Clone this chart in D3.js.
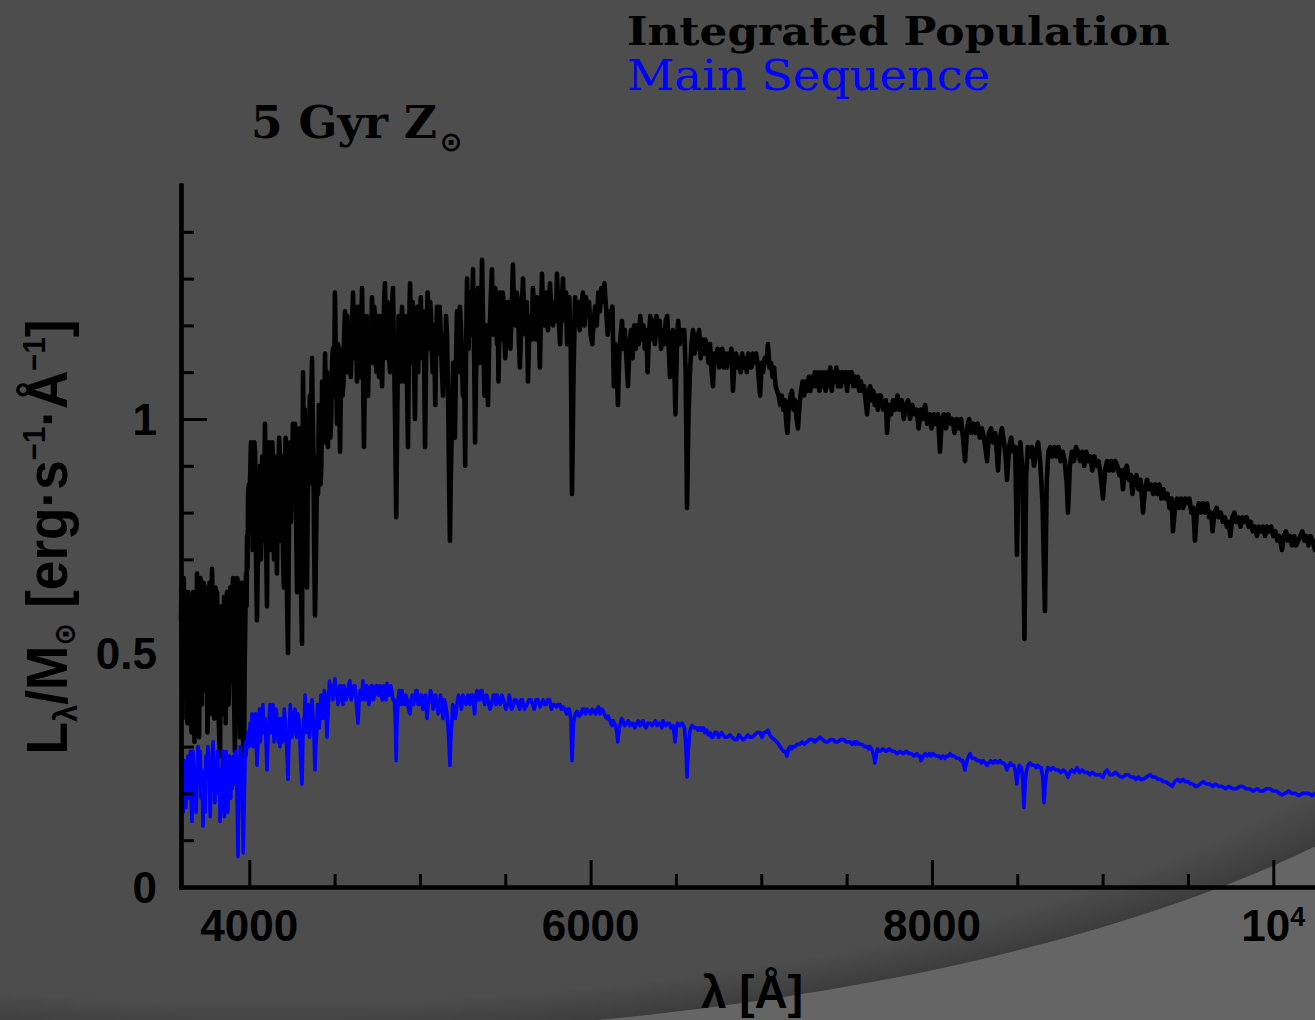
<!DOCTYPE html>
<html>
<head>
<meta charset="utf-8">
<script src="https://cdn.jsdelivr.net/npm/d3@7"></script>
<style>
  html, body { margin: 0; padding: 0; background: #656565; overflow: hidden; }
  svg { display: block; }
</style>
</head>
<body>
<svg id="chart" width="1315" height="1020"></svg>
<script>
// Spectral energy distribution of a 5 Gyr solar-metallicity population:
// [wavelength (Å), L_λ/M_⊙ (erg s^-1 Å^-1)]
const integratedPopulation = [
  [3600,0.57],[3603,0.64],[3606,0.47],[3609,0.36],[3612,0.59],[3616,0.66],[3620,0.50],[3624,0.40],
  [3628,0.63],[3631,0.58],[3635,0.53],[3638,0.35],[3641,0.63],[3645,0.55],[3650,0.45],[3654,0.58],
  [3659,0.41],[3662,0.33],[3665,0.60],[3670,0.63],[3673,0.55],[3676,0.47],[3679,0.31],[3682,0.38],
  [3685,0.52],[3688,0.62],[3691,0.57],[3694,0.67],[3697,0.60],[3700,0.52],[3703,0.42],[3706,0.32],
  [3708,0.45],[3711,0.62],[3714,0.66],[3718,0.56],[3722,0.39],[3725,0.61],[3729,0.53],[3733,0.65],
  [3738,0.60],[3742,0.42],[3746,0.58],[3749,0.64],[3752,0.44],[3755,0.33],[3758,0.40],[3761,0.60],
  [3764,0.55],[3767,0.65],[3770,0.63],[3773,0.37],[3776,0.50],[3779,0.61],[3782,0.68],[3786,0.58],
  [3790,0.52],[3795,0.36],[3799,0.43],[3802,0.64],[3805,0.60],[3808,0.50],[3811,0.63],[3815,0.55],
  [3818,0.40],[3823,0.33],[3829,0.28],[3832,0.50],[3835,0.45],[3838,0.60],[3840,0.51],[3844,0.37],
  [3848,0.43],[3853,0.62],[3858,0.54],[3862,0.35],[3866,0.49],[3870,0.63],[3875,0.58],[3879,0.39],
  [3884,0.47],[3888,0.64],[3893,0.60],[3896,0.44],[3899,0.52],[3902,0.62],[3905,0.66],[3908,0.55],
  [3911,0.40],[3916,0.29],[3920,0.48],[3924,0.55],[3929,0.66],[3934,0.65],[3937,0.52],[3940,0.44],
  [3946,0.32],[3949,0.48],[3952,0.58],[3957,0.65],[3960,0.45],[3963,0.33],[3967,0.28],[3970,0.30],
  [3973,0.47],[3976,0.55],[3981,0.67],[3984,0.60],[3987,0.75],[3990,0.68],[3993,0.84],[3998,0.86],
  [4001,0.76],[4004,0.86],[4010,0.95],[4016,0.90],[4020,0.72],[4025,0.80],[4030,0.95],[4034,0.93],
  [4040,0.70],[4045,0.57],[4051,0.72],[4058,0.82],[4063,0.90],[4068,0.70],[4072,0.76],[4076,0.92],
  [4080,0.88],[4086,0.74],[4092,0.99],[4098,0.80],[4101,0.68],[4104,0.60],[4108,0.86],[4112,0.80],
  [4116,0.95],[4121,0.93],[4125,0.72],[4130,0.82],[4135,0.95],[4140,0.90],[4145,0.70],[4150,0.74],
  [4156,0.92],[4162,0.67],[4166,0.78],[4170,0.85],[4175,0.96],[4180,0.92],[4185,0.74],[4190,0.78],
  [4194,0.92],[4198,0.71],[4203,0.64],[4208,0.86],[4213,0.96],[4218,0.76],[4222,0.60],[4227,0.50],
  [4230,0.66],[4233,0.80],[4239,0.95],[4244,0.78],[4250,0.88],[4256,0.99],[4262,0.84],[4268,0.99],
  [4274,0.80],[4280,0.63],[4285,0.78],[4290,0.85],[4295,0.98],[4300,0.72],[4305,0.60],[4309,0.52],
  [4312,0.80],[4315,1.10],[4318,0.98],[4322,0.90],[4326,1.02],[4330,0.80],[4334,0.72],[4338,0.64],
  [4342,0.80],[4346,0.95],[4350,0.86],[4355,1.05],[4358,0.92],[4362,1.00],[4365,1.08],[4368,1.13],
  [4371,1.02],[4375,0.95],[4380,0.74],[4385,0.58],[4389,0.66],[4392,0.75],[4398,0.92],[4403,0.84],
  [4408,1.03],[4412,1.00],[4417,0.86],[4422,0.90],[4427,1.08],[4432,1.05],[4438,0.95],[4444,1.14],
  [4448,1.06],[4452,1.00],[4456,1.10],[4461,0.94],[4466,1.02],[4470,1.08],[4475,0.96],[4480,1.00],
  [4485,1.12],[4490,1.15],[4496,1.05],[4502,1.27],[4508,1.12],[4514,0.99],[4520,1.16],[4525,1.10],
  [4532,0.93],[4537,1.08],[4542,1.15],[4547,1.05],[4552,1.08],[4556,1.18],[4561,1.23],[4566,1.10],
  [4570,1.12],[4575,1.22],[4580,1.10],[4585,1.16],[4590,1.20],[4595,1.09],[4600,1.15],[4604,1.22],
  [4608,1.27],[4613,1.16],[4618,1.13],[4622,1.24],[4627,1.21],[4631,1.08],[4635,1.12],[4640,1.24],
  [4645,1.20],[4649,1.09],[4653,1.14],[4657,1.22],[4661,1.28],[4666,1.12],[4672,0.94],[4677,1.08],
  [4683,1.15],[4689,1.22],[4696,1.05],[4701,1.14],[4707,1.20],[4713,1.12],[4719,1.26],[4724,1.18],
  [4728,1.12],[4732,1.24],[4737,1.22],[4741,1.12],[4746,1.10],[4751,1.22],[4756,1.19],[4761,1.09],
  [4766,1.13],[4772,1.22],[4778,1.07],[4782,1.14],[4787,1.20],[4791,1.26],[4795,1.29],[4800,1.18],
  [4805,1.13],[4810,1.25],[4815,1.22],[4820,1.13],[4825,1.10],[4830,1.24],[4834,1.18],[4838,1.25],
  [4842,1.28],[4846,1.18],[4850,1.10],[4855,0.98],[4861,0.79],[4866,0.98],[4870,1.10],[4875,1.22],
  [4880,1.18],[4885,1.08],[4890,1.12],[4895,1.24],[4900,1.20],[4905,1.12],[4910,1.08],[4915,1.22],
  [4920,1.17],[4925,1.06],[4930,0.94],[4936,1.18],[4942,1.29],[4947,1.20],[4952,1.12],[4957,1.25],
  [4962,1.20],[4966,1.10],[4971,1.00],[4976,1.14],[4981,1.18],[4985,1.24],[4990,1.10],[4995,1.19],
  [5000,1.22],[5005,1.26],[5010,1.13],[5015,1.20],[5020,1.23],[5025,1.12],[5030,0.94],[5037,1.16],
  [5045,1.27],[5050,1.20],[5055,1.15],[5060,1.25],[5065,1.22],[5070,1.14],[5075,1.10],[5082,1.20],
  [5090,1.03],[5095,1.16],[5100,1.24],[5105,1.18],[5110,1.14],[5115,1.24],[5120,1.20],[5127,1.12],
  [5135,1.05],[5141,1.18],[5148,1.13],[5153,1.22],[5159,1.17],[5163,1.08],[5167,1.00],[5171,0.86],
  [5176,0.74],[5180,0.86],[5185,0.95],[5190,1.05],[5195,1.12],[5200,1.04],[5205,0.96],[5211,1.12],
  [5217,1.23],[5222,1.16],[5228,1.10],[5234,1.24],[5240,1.20],[5246,1.12],[5252,1.05],[5258,1.16],
  [5265,0.90],[5270,1.14],[5276,1.30],[5280,1.22],[5285,1.15],[5290,1.27],[5295,1.25],[5303,1.18],
  [5311,1.32],[5318,1.12],[5323,0.95],[5329,1.10],[5335,1.18],[5340,1.28],[5345,1.25],[5350,1.12],
  [5355,1.15],[5360,1.26],[5364,1.34],[5371,1.18],[5378,1.05],[5384,1.14],[5390,1.20],[5395,1.12],
  [5399,1.03],[5405,1.16],[5410,1.20],[5416,1.27],[5422,1.32],[5427,1.22],[5432,1.18],[5437,1.26],
  [5442,1.28],[5447,1.20],[5452,1.16],[5456,1.24],[5460,1.08],[5465,1.18],[5469,1.27],[5475,1.22],
  [5480,1.17],[5485,1.27],[5490,1.25],[5495,1.18],[5500,1.13],[5508,1.22],[5516,1.25],
  [5523,1.16],[5530,1.15],[5538,1.24],[5545,1.33],[5552,1.22],[5560,1.20],[5567,1.27],[5575,1.25],
  [5580,1.16],[5586,1.11],[5595,1.22],[5604,1.30],[5611,1.21],[5618,1.18],[5626,1.25],[5633,1.08],
  [5641,1.20],[5648,1.22],[5655,1.17],[5662,1.28],[5671,1.21],[5680,1.17],[5686,1.26],[5692,1.24],
  [5698,1.17],[5703,1.11],[5709,1.22],[5715,1.31],[5722,1.23],[5730,1.20],[5740,1.27],[5750,1.19],
  [5756,1.24],[5762,1.29],[5771,1.22],[5780,1.20],[5790,1.25],[5797,1.21],[5803,1.31],[5812,1.22],
  [5821,1.16],[5829,1.24],[5838,1.30],[5844,1.23],[5850,1.21],[5856,1.27],[5862,1.16],[5868,1.24],
  [5875,1.26],[5884,1.15],[5891,0.84],[5900,1.10],[5909,1.26],[5918,1.20],[5927,1.25],[5936,1.19],
  [5945,1.24],[5955,1.27],[5964,1.20],[5973,1.26],[5982,1.22],[5991,1.25],[6000,1.18],[6010,1.16],
  [6018,1.21],[6027,1.24],[6036,1.20],[6045,1.27],[6054,1.23],[6063,1.28],[6072,1.25],[6081,1.29],
  [6090,1.24],[6100,1.18],[6110,1.23],[6120,1.20],[6128,1.24],[6136,1.07],[6145,1.16],[6152,1.12],
  [6160,1.03],[6168,1.14],[6176,1.18],[6184,1.21],[6192,1.15],[6200,1.19],[6210,1.13],[6219,1.07],
  [6228,1.16],[6237,1.19],[6246,1.13],[6255,1.20],[6264,1.15],[6273,1.20],[6282,1.16],[6291,1.22],
  [6300,1.17],[6309,1.20],[6318,1.15],[6327,1.19],[6334,1.10],[6342,1.18],[6350,1.22],[6359,1.17],
  [6368,1.21],[6377,1.16],[6386,1.22],[6395,1.18],[6404,1.21],[6413,1.15],[6422,1.19],[6431,1.16],
  [6440,1.21],[6449,1.22],[6458,1.15],[6465,1.09],[6474,1.17],[6482,1.19],[6490,1.12],[6497,1.01],
  [6505,1.15],[6513,1.21],[6522,1.16],[6531,1.19],[6540,1.17],[6549,1.19],[6557,1.10],[6565,0.81],
  [6573,1.00],[6582,1.10],[6591,1.16],[6600,1.19],[6609,1.14],[6618,1.18],[6627,1.15],[6636,1.19],
  [6645,1.13],[6654,1.17],[6663,1.14],[6672,1.17],[6682,1.15],[6691,1.12],[6700,1.16],[6709,1.10],
  [6717,1.07],[6726,1.14],[6735,1.12],[6744,1.15],[6753,1.11],[6762,1.14],[6771,1.15],[6780,1.11],
  [6789,1.14],[6798,1.11],[6807,1.14],[6816,1.12],[6825,1.15],[6834,1.06],[6843,1.12],[6852,1.14],
  [6861,1.11],[6870,1.13],[6879,1.10],[6888,1.14],[6897,1.11],[6906,1.13],[6915,1.10],[6924,1.14],
  [6933,1.13],[6942,1.11],[6951,1.14],[6960,1.12],[6969,1.14],[6978,1.12],[6993,1.05],[7002,1.12],
  [7011,1.10],[7020,1.13],[7030,1.12],[7039,1.16],[7048,1.11],[7057,1.12],[7066,1.09],[7075,1.11],
  [7084,1.07],[7093,1.06],[7102,1.05],[7111,1.03],[7120,1.05],[7129,1.02],[7138,1.04],[7147,0.99],
  [7153,0.97],[7162,1.03],[7171,1.05],[7180,1.06],[7189,1.02],[7198,1.04],[7207,1.00],[7215,0.98],
  [7224,1.03],[7233,1.06],[7242,1.08],[7251,1.05],[7260,1.08],[7269,1.06],[7278,1.09],[7287,1.06],
  [7296,1.09],[7305,1.07],[7314,1.10],[7323,1.07],[7332,1.10],[7341,1.06],[7350,1.10],[7359,1.07],
  [7368,1.10],[7377,1.06],[7386,1.10],[7395,1.07],[7404,1.11],[7413,1.06],[7422,1.10],[7431,1.08],
  [7440,1.11],[7449,1.07],[7458,1.10],[7467,1.07],[7476,1.10],[7485,1.08],[7494,1.10],[7503,1.06],
  [7512,1.10],[7521,1.08],[7530,1.10],[7539,1.07],[7548,1.09],[7557,1.07],[7566,1.09],[7575,1.06],
  [7584,1.08],[7593,1.06],[7602,1.07],[7611,1.04],[7620,1.01],[7629,1.06],[7638,1.07],[7647,1.04],
  [7656,1.06],[7665,1.03],[7674,1.05],[7683,1.02],[7692,1.05],[7700,1.05],[7715,1.02],[7730,1.04],
  [7737,0.97],[7748,1.03],[7760,1.01],[7772,1.04],[7785,1.02],[7798,1.05],[7810,1.02],[7822,1.04],
  [7835,1.00],[7848,1.03],[7860,1.04],[7872,1.00],[7885,1.03],[7898,1.01],[7910,1.02],[7922,0.98],
  [7935,1.02],[7948,1.00],[7960,1.03],[7972,0.99],[7985,1.01],[7998,0.98],[8010,1.01],[8022,0.99],
  [8035,1.01],[8047,0.93],[8058,1.00],[8070,1.01],[8082,0.98],[8095,1.01],[8108,0.99],[8120,1.00],
  [8132,0.97],[8145,1.00],[8158,0.98],[8170,1.00],[8182,0.96],[8194,0.91],[8206,0.98],[8218,1.00],
  [8230,0.97],[8243,0.99],[8255,0.97],[8268,0.99],[8280,0.96],[8292,0.98],[8305,0.96],[8316,0.93],
  [8323,0.91],[8334,0.97],[8346,0.98],[8358,0.95],[8370,0.97],[8380,0.93],[8387,0.89],[8398,0.96],
  [8410,0.98],[8422,0.95],[8432,0.92],[8440,0.87],[8452,0.94],[8464,0.96],[8476,0.93],[8488,0.94],
  [8498,0.71],[8508,0.92],[8518,0.95],[8530,0.89],[8542,0.53],[8552,0.88],[8562,0.94],[8574,0.92],
  [8586,0.94],[8598,0.90],[8610,0.93],[8622,0.95],[8634,0.91],[8648,0.82],[8662,0.59],[8672,0.86],
  [8682,0.93],[8694,0.94],[8706,0.92],[8718,0.94],[8730,0.92],[8742,0.94],[8754,0.91],[8766,0.93],
  [8778,0.91],[8790,0.86],[8797,0.80],[8808,0.90],[8820,0.93],[8832,0.91],[8844,0.94],[8856,0.93],
  [8868,0.91],[8880,0.93],[8892,0.90],[8904,0.93],[8916,0.91],[8928,0.92],[8940,0.89],[8952,0.92],
  [8964,0.90],[8976,0.91],[8988,0.88],[9002,0.83],[9014,0.89],[9026,0.91],[9038,0.89],[9050,0.91],
  [9062,0.89],[9074,0.91],[9086,0.90],[9098,0.88],[9110,0.89],[9119,0.85],[9130,0.89],[9142,0.90],
  [9154,0.87],[9166,0.88],[9174,0.84],[9186,0.87],[9198,0.88],[9210,0.85],[9222,0.87],[9237,0.80],
  [9248,0.85],[9260,0.87],[9272,0.85],[9284,0.86],[9296,0.84],[9308,0.86],[9320,0.84],[9332,0.86],
  [9344,0.83],[9356,0.85],[9368,0.83],[9380,0.84],[9392,0.81],[9404,0.83],[9412,0.76],[9424,0.81],
  [9436,0.83],[9448,0.81],[9460,0.83],[9472,0.81],[9484,0.83],[9496,0.82],[9508,0.83],[9520,0.80],
  [9532,0.81],[9541,0.74],[9552,0.80],[9564,0.82],[9576,0.80],[9588,0.82],[9600,0.80],[9612,0.82],
  [9624,0.79],[9636,0.80],[9644,0.76],[9656,0.80],[9668,0.81],[9680,0.79],[9692,0.80],[9704,0.78],
  [9716,0.79],[9728,0.77],[9740,0.78],[9748,0.75],[9760,0.79],[9772,0.80],[9784,0.78],[9796,0.79],
  [9808,0.77],[9820,0.79],[9832,0.78],[9844,0.79],[9856,0.77],[9868,0.78],[9880,0.76],[9892,0.77],
  [9904,0.75],[9916,0.77],[9928,0.76],[9940,0.77],[9952,0.75],[9964,0.77],[9976,0.76],[9988,0.77],
  [10000,0.75],[10012,0.76],[10024,0.74],[10036,0.75],[10051,0.72],[10062,0.75],[10074,0.76],[10086,0.74],
  [10098,0.75],[10110,0.73],[10122,0.75],[10134,0.73],[10146,0.74],[10158,0.75],[10170,0.76],[10182,0.74],
  [10194,0.75],[10206,0.73],[10218,0.75],[10230,0.74],[10244,0.72],[10256,0.74],[10268,0.73],[10280,0.74],
  [10292,0.72],[10300,0.74]
];

const mainSequence = [
  [3600,0.25],[3604,0.30],[3609,0.20],[3613,0.16],[3618,0.27],[3623,0.22],[3629,0.17],[3635,0.25],
  [3641,0.28],[3645,0.19],[3650,0.22],[3655,0.29],[3659,0.20],[3664,0.14],[3670,0.29],[3675,0.24],
  [3679,0.19],[3684,0.26],[3688,0.16],[3694,0.22],[3700,0.30],[3705,0.26],[3709,0.22],[3713,0.29],
  [3717,0.19],[3723,0.25],[3729,0.13],[3734,0.19],[3738,0.22],[3742,0.16],[3746,0.28],[3752,0.24],
  [3758,0.30],[3762,0.26],[3767,0.22],[3771,0.15],[3776,0.21],[3782,0.28],[3788,0.31],[3794,0.24],
  [3799,0.18],[3805,0.27],[3811,0.24],[3815,0.29],[3820,0.20],[3825,0.25],[3829,0.14],[3835,0.21],
  [3840,0.25],[3845,0.29],[3849,0.20],[3854,0.15],[3858,0.23],[3864,0.29],[3870,0.27],[3874,0.16],
  [3878,0.21],[3883,0.28],[3887,0.24],[3892,0.19],[3896,0.26],[3900,0.21],[3905,0.28],[3911,0.24],
  [3916,0.22],[3921,0.29],[3925,0.26],[3930,0.16],[3934,0.065],[3938,0.18],[3942,0.24],[3947,0.30],
  [3952,0.28],[3955,0.24],[3958,0.22],[3962,0.14],[3965,0.073],[3969,0.16],[3974,0.25],[3978,0.31],
  [3981,0.28],[3987,0.31],[3993,0.33],[3999,0.30],[4005,0.35],[4010,0.31],[4016,0.37],[4023,0.30],
  [4030,0.33],[4037,0.37],[4045,0.26],[4050,0.30],[4055,0.34],[4060,0.38],[4065,0.31],[4072,0.35],
  [4080,0.39],[4086,0.33],[4092,0.36],[4098,0.31],[4104,0.25],[4110,0.32],[4115,0.35],[4121,0.39],
  [4128,0.33],[4134,0.36],[4139,0.39],[4145,0.31],[4150,0.34],[4155,0.38],[4160,0.37],[4165,0.33],
  [4170,0.31],[4175,0.36],[4180,0.30],[4185,0.35],[4190,0.36],[4195,0.31],[4200,0.33],[4205,0.38],
  [4210,0.36],[4214,0.33],[4218,0.31],[4223,0.27],[4227,0.23],[4231,0.29],[4235,0.34],[4240,0.39],
  [4245,0.37],[4250,0.32],[4255,0.33],[4262,0.37],[4268,0.38],[4273,0.35],[4278,0.32],[4284,0.37],
  [4290,0.36],[4295,0.33],[4300,0.28],[4304,0.25],[4309,0.22],[4313,0.30],[4318,0.36],[4322,0.33],
  [4327,0.41],[4332,0.37],[4338,0.33],[4343,0.39],[4348,0.38],[4353,0.32],[4358,0.34],[4363,0.39],
  [4368,0.40],[4372,0.37],[4377,0.35],[4381,0.30],[4385,0.25],[4390,0.30],[4395,0.33],[4400,0.39],
  [4405,0.37],[4410,0.34],[4414,0.36],[4420,0.41],[4425,0.40],[4430,0.36],[4435,0.37],[4440,0.42],
  [4445,0.41],[4450,0.37],[4455,0.32],[4460,0.36],[4465,0.40],[4470,0.44],[4475,0.43],[4480,0.41],
  [4485,0.43],[4490,0.40],[4495,0.41],[4502,0.445],[4508,0.42],[4514,0.42],[4519,0.39],[4525,0.40],
  [4531,0.43],[4538,0.43],[4543,0.40],[4549,0.39],[4555,0.43],[4560,0.42],[4567,0.40],[4575,0.41],
  [4582,0.43],[4590,0.44],[4597,0.40],[4605,0.41],[4612,0.43],[4620,0.43],[4628,0.39],[4637,0.35],
  [4643,0.40],[4650,0.42],[4658,0.40],[4666,0.44],[4673,0.41],[4680,0.40],[4688,0.43],[4695,0.42],
  [4701,0.39],[4707,0.40],[4713,0.43],[4720,0.43],[4727,0.40],[4735,0.41],[4742,0.43],[4750,0.43],
  [4758,0.41],[4766,0.43],[4773,0.41],[4780,0.40],[4788,0.43],[4795,0.42],[4801,0.40],[4807,0.435],
  [4814,0.41],[4820,0.41],[4828,0.43],[4835,0.42],[4843,0.40],[4850,0.40],[4856,0.35],[4861,0.27],
  [4866,0.35],[4872,0.40],[4879,0.42],[4885,0.41],[4890,0.39],[4895,0.42],[4902,0.40],[4910,0.39],
  [4918,0.41],[4925,0.40],[4933,0.38],[4942,0.37],[4948,0.40],[4955,0.41],[4962,0.39],[4970,0.40],
  [4977,0.42],[4983,0.42],[4989,0.39],[4995,0.39],[5002,0.41],[5010,0.41],[5017,0.38],[5025,0.39],
  [5033,0.41],[5041,0.36],[5048,0.39],[5055,0.40],[5062,0.42],[5070,0.41],[5077,0.38],[5085,0.39],
  [5092,0.41],[5100,0.395],[5107,0.37],[5115,0.38],[5120,0.41],[5125,0.40],[5130,0.38],[5135,0.36],
  [5142,0.40],[5150,0.39],[5158,0.37],[5165,0.34],[5171,0.30],[5176,0.26],[5180,0.31],[5185,0.34],
  [5192,0.39],[5200,0.38],[5208,0.36],[5217,0.39],[5226,0.41],[5235,0.40],[5243,0.38],[5252,0.41],
  [5260,0.40],[5270,0.39],[5281,0.41],[5293,0.39],[5301,0.41],[5310,0.41],[5315,0.39],[5320,0.37],
  [5327,0.40],[5334,0.42],[5342,0.40],[5350,0.40],[5357,0.42],[5364,0.42],[5372,0.40],[5380,0.39],
  [5390,0.41],[5399,0.40],[5410,0.38],[5420,0.39],[5430,0.41],[5440,0.41],[5446,0.39],[5452,0.41],
  [5461,0.40],[5470,0.39],[5480,0.41],[5490,0.40],[5503,0.38],[5516,0.39],[5523,0.41],[5530,0.40],
  [5537,0.38],[5545,0.385],[5555,0.40],[5565,0.40],[5575,0.39],[5585,0.38],[5592,0.40],[5600,0.40],
  [5613,0.38],[5627,0.39],[5638,0.40],[5650,0.40],[5660,0.39],[5670,0.38],[5680,0.40],[5690,0.40],
  [5705,0.385],[5721,0.40],[5730,0.39],[5740,0.39],[5750,0.40],[5760,0.40],[5770,0.38],[5780,0.39],
  [5790,0.39],[5800,0.385],[5810,0.39],[5820,0.39],[5829,0.38],[5838,0.385],[5849,0.38],[5860,0.37],
  [5867,0.38],[5875,0.38],[5884,0.36],[5891,0.27],[5900,0.35],[5910,0.37],[5921,0.375],[5933,0.365],
  [5945,0.37],[5952,0.38],[5960,0.38],[5970,0.37],[5979,0.38],[5990,0.375],[6000,0.37],[6010,0.38],
  [6020,0.375],[6028,0.37],[6037,0.38],[6046,0.385],[6055,0.37],[6065,0.38],[6075,0.375],[6085,0.365],
  [6096,0.36],[6103,0.365],[6110,0.36],[6118,0.35],[6125,0.345],[6132,0.355],[6140,0.35],[6150,0.34],
  [6160,0.31],[6168,0.34],[6175,0.35],[6182,0.36],[6190,0.355],[6200,0.345],[6210,0.35],[6220,0.355],
  [6230,0.345],[6239,0.35],[6248,0.35],[6259,0.34],[6270,0.35],[6280,0.355],[6290,0.345],[6298,0.35],
  [6307,0.355],[6316,0.345],[6325,0.34],[6336,0.35],[6348,0.35],[6359,0.345],[6370,0.35],[6380,0.355],
  [6390,0.345],[6400,0.35],[6410,0.35],[6417,0.34],[6424,0.355],[6432,0.35],[6440,0.345],[6450,0.35],
  [6460,0.35],[6471,0.34],[6483,0.345],[6489,0.33],[6495,0.31],[6502,0.34],[6510,0.35],[6523,0.345],
  [6536,0.35],[6543,0.345],[6550,0.34],[6558,0.30],[6565,0.235],[6572,0.29],[6580,0.33],[6587,0.34],
  [6594,0.345],[6607,0.34],[6620,0.34],[6630,0.335],[6640,0.34],[6650,0.335],[6659,0.34],[6670,0.33],
  [6680,0.335],[6690,0.325],[6700,0.33],[6709,0.32],[6717,0.32],[6728,0.33],[6740,0.33],[6750,0.32],
  [6760,0.325],[6768,0.33],[6776,0.325],[6788,0.32],[6800,0.32],[6815,0.325],[6830,0.32],[6844,0.315],
  [6858,0.315],[6869,0.325],[6880,0.32],[6895,0.315],[6910,0.32],[6922,0.325],[6934,0.32],[6947,0.32],
  [6960,0.325],[6976,0.33],[6993,0.33],[7004,0.32],[7015,0.33],[7027,0.33],[7039,0.335],[7050,0.325],
  [7060,0.32],[7076,0.315],[7092,0.31],[7101,0.305],[7110,0.30],[7120,0.295],[7130,0.29],[7140,0.29],
  [7151,0.28],[7160,0.295],[7170,0.30],[7178,0.295],[7186,0.30],[7198,0.30],[7210,0.305],[7225,0.305],
  [7240,0.31],[7254,0.305],[7268,0.31],[7284,0.315],[7300,0.315],[7314,0.31],[7327,0.315],[7344,0.32],
  [7360,0.315],[7375,0.31],[7390,0.31],[7405,0.315],[7420,0.315],[7435,0.31],[7450,0.31],[7465,0.315],
  [7480,0.315],[7500,0.31],[7520,0.31],[7532,0.305],[7545,0.31],[7553,0.305],[7561,0.31],[7575,0.305],
  [7590,0.305],[7605,0.30],[7620,0.30],[7629,0.295],[7637,0.30],[7645,0.295],[7652,0.29],[7659,0.28],
  [7666,0.265],[7673,0.28],[7680,0.295],[7697,0.29],[7713,0.295],[7731,0.29],[7750,0.295],[7765,0.29],
  [7780,0.29],[7796,0.285],[7813,0.29],[7832,0.285],[7850,0.29],[7865,0.285],[7880,0.285],[7896,0.28],
  [7912,0.285],[7921,0.28],[7930,0.28],[7936,0.27],[7942,0.275],[7951,0.28],[7960,0.285],[7972,0.28],
  [7985,0.285],[7995,0.28],[8006,0.285],[8023,0.28],[8040,0.28],[8052,0.275],[8065,0.28],[8076,0.275],
  [8088,0.28],[8097,0.28],[8106,0.285],[8118,0.28],[8130,0.28],[8145,0.275],[8160,0.275],[8170,0.27],
  [8180,0.27],[8187,0.26],[8194,0.25],[8202,0.265],[8210,0.275],[8217,0.28],[8223,0.285],[8236,0.275],
  [8250,0.275],[8265,0.27],[8280,0.27],[8290,0.265],[8300,0.27],[8312,0.265],[8323,0.26],[8334,0.265],
  [8345,0.27],[8358,0.265],[8370,0.27],[8385,0.265],[8399,0.27],[8410,0.265],[8420,0.265],[8430,0.26],
  [8440,0.25],[8450,0.26],[8460,0.265],[8470,0.26],[8480,0.26],[8490,0.245],[8498,0.22],[8505,0.245],
  [8512,0.26],[8519,0.255],[8525,0.255],[8532,0.23],[8539,0.17],[8546,0.22],[8552,0.245],[8563,0.26],
  [8575,0.265],[8588,0.26],[8600,0.26],[8610,0.255],[8620,0.26],[8630,0.255],[8640,0.255],[8650,0.23],
  [8657,0.18],[8664,0.22],[8670,0.24],[8675,0.25],[8680,0.255],[8695,0.25],[8710,0.255],[8725,0.25],
  [8740,0.25],[8755,0.245],[8770,0.25],[8784,0.245],[8797,0.235],[8808,0.245],[8820,0.25],[8835,0.245],
  [8850,0.255],[8865,0.245],[8880,0.25],[8895,0.245],[8910,0.245],[8925,0.24],[8940,0.245],[8955,0.24],
  [8970,0.24],[8986,0.24],[9002,0.235],[9014,0.245],[9026,0.25],[9043,0.24],[9060,0.24],[9075,0.245],
  [9090,0.24],[9105,0.235],[9120,0.235],[9135,0.24],[9150,0.24],[9165,0.235],[9180,0.235],[9195,0.23],
  [9210,0.235],[9224,0.23],[9237,0.23],[9257,0.235],[9278,0.24],[9294,0.235],[9310,0.235],[9325,0.23],
  [9340,0.23],[9355,0.225],[9370,0.225],[9389,0.22],[9407,0.215],[9423,0.225],[9440,0.23],[9455,0.225],
  [9471,0.23],[9485,0.225],[9500,0.225],[9515,0.22],[9530,0.22],[9542,0.215],[9553,0.215],[9571,0.22],
  [9590,0.225],[9610,0.22],[9629,0.22],[9645,0.215],[9660,0.22],[9680,0.215],[9700,0.215],[9720,0.21],
  [9740,0.215],[9763,0.21],[9787,0.21],[9803,0.215],[9820,0.215],[9840,0.21],[9860,0.21],[9882,0.205],
  [9905,0.21],[9922,0.205],[9940,0.205],[9960,0.21],[9980,0.21],[10000,0.205],[10020,0.205],[10035,0.2],
  [10051,0.197],[10070,0.2],[10090,0.205],[10110,0.2],[10130,0.20],[10150,0.195],[10170,0.20],[10190,0.2],
  [10210,0.20],[10227,0.195],[10244,0.20],[10270,0.2],[10300,0.20]
];

const seriesNames = ["Integrated Population", "Main Sequence"];
const seriesColors = ["#000000", "#0000ff"];
const xMajorTicks = [4000, 6000, 8000, 10000];
const xMinorTicks = [4500, 5000, 5500, 6500, 7000, 7500, 8500, 9000, 9500];
const yMajorTicks = [0, 0.5, 1];
const yMinorTicks = [0.1, 0.2, 0.3, 0.4, 0.6, 0.7, 0.8, 0.9, 1.1, 1.2, 1.3, 1.4];
const yTickLabels = ["0", "0.5", "1"];
const xDomain = [3600, 10300];
const yDomain = [0, 1.5];

const svg = d3.select("#chart");
const W = 1315, H = 1020;
const plot = { left: 181, right: 1324.5, top: 185, bottom: 887 };

// backdrop: light field under a wide dark ellipse whose rim is shaded
const defs = svg.append("defs");
const disc = { cx: 270, cy: 570, rx: 1300, ry: 465 };
const grad = defs.append("radialGradient").attr("id", "discShade");
grad.append("stop").attr("offset", 0).attr("stop-color", "#4d4d4d");
grad.append("stop").attr("offset", 0.93).attr("stop-color", "#4d4d4d");
grad.append("stop").attr("offset", 1).attr("stop-color", "#3c3c3c");

svg.append("rect").attr("width", W).attr("height", H).attr("fill", "#656565");
svg.append("ellipse").attr("cx", disc.cx).attr("cy", disc.cy)
  .attr("rx", disc.rx).attr("ry", disc.ry).attr("fill", "url(#discShade)");
// keep the upper part of the page uniformly dark
svg.append("rect").attr("x", 0).attr("y", 0).attr("width", W).attr("height", disc.cy)
  .attr("fill", "#4d4d4d");

const x = d3.scaleLinear().domain(xDomain).range([plot.left, plot.right]);
const y = d3.scaleLinear().domain(yDomain).range([plot.bottom, plot.top]);

const line = d3.line().x(d => x(d[0])).y(d => y(d[1]));

// spectra
svg.append("path").datum(integratedPopulation)
  .attr("d", line).attr("fill", "none").attr("stroke", seriesColors[0])
  .attr("stroke-width", 4.6).attr("stroke-linejoin", "round").attr("stroke-linecap", "round");
svg.append("path").datum(mainSequence)
  .attr("d", line).attr("fill", "none").attr("stroke", seriesColors[1])
  .attr("stroke-width", 3.6).attr("stroke-linejoin", "round").attr("stroke-linecap", "round");

// axes
const sansBold = "'Liberation Sans', Arial, Helvetica, sans-serif";
const serif = "'DejaVu Serif', serif";

const xAxisMinor = d3.axisBottom(x).tickValues(xMinorTicks).tickSize(-13).tickSizeOuter(0).tickFormat("");
const xAxisMajor = d3.axisBottom(x).tickValues(xMajorTicks).tickSize(-27).tickSizeOuter(0).tickFormat("");
const yAxisMinor = d3.axisLeft(y).tickValues(yMinorTicks).tickSize(-13).tickSizeOuter(0).tickFormat("");
const yAxisMajor = d3.axisLeft(y).tickValues(yMajorTicks).tickSize(-26).tickSizeOuter(0).tickFormat("");

function styleAxis(g) {
  g.select(".domain").attr("stroke", "#000").attr("stroke-width", 4.2).attr("stroke-linecap", "square");
  g.selectAll(".tick line").attr("stroke", "#000").attr("stroke-width", 3);
}

svg.append("g").attr("transform", `translate(0,${plot.bottom})`).call(xAxisMinor).call(styleAxis);
svg.append("g").attr("transform", `translate(0,${plot.bottom})`).call(xAxisMajor).call(styleAxis);
svg.append("g").attr("transform", `translate(${plot.left},0)`).call(yAxisMinor).call(styleAxis);
svg.append("g").attr("transform", `translate(${plot.left},0)`).call(yAxisMajor).call(styleAxis);

// x tick labels
const xLab = svg.append("g").attr("font-family", sansBold).attr("font-weight", "bold")
  .attr("font-size", 44).attr("fill", "#000").attr("text-anchor", "middle");
xMajorTicks.forEach(v => {
  const t = xLab.append("text").attr("x", x(v)).attr("y", 941);
  if (v === 10000) {
    t.append("tspan").text("10");
    t.append("tspan").attr("font-size", 27).attr("dy", -15).text("4");
  } else {
    t.text(d3.format("d")(v));
  }
});

// y tick labels
const yLab = svg.append("g").attr("font-family", sansBold).attr("font-weight", "bold")
  .attr("font-size", 44).attr("fill", "#000").attr("text-anchor", "end");
yMajorTicks.forEach((v, i) => {
  yLab.append("text").attr("x", 157).attr("y", y(v) + 16).text(yTickLabels[i]);
});

// axis titles
svg.append("text").attr("x", 752).attr("y", 1008).attr("text-anchor", "middle")
  .attr("font-family", sansBold).attr("font-weight", "bold").attr("font-size", 46)
  .attr("fill", "#000").text("λ [Å]");

const yTitle = svg.append("text")
  .attr("transform", "translate(67,537) rotate(-90)")
  .attr("text-anchor", "middle").attr("font-family", sansBold).attr("font-weight", "bold")
  .attr("font-size", 58).attr("fill", "#000")
  .attr("textLength", 435).attr("lengthAdjust", "spacingAndGlyphs");
yTitle.append("tspan").text("L");
yTitle.append("tspan").attr("font-size", 34).attr("dy", 10).text("λ");
yTitle.append("tspan").attr("dy", -10).text("/M");
yTitle.append("tspan").attr("font-size", 30).attr("dy", 8).attr("font-family", "'DejaVu Sans', sans-serif").text("⊙");
yTitle.append("tspan").attr("dy", -8).text(" [erg·s");
yTitle.append("tspan").attr("font-size", 32).attr("dy", -22).text("−1");
yTitle.append("tspan").attr("dy", 22).text("·Å");
yTitle.append("tspan").attr("font-size", 32).attr("dy", -22).text("−1");
yTitle.append("tspan").attr("dy", 22).text("]");

// panel label
svg.append("text").attr("x", 251).attr("y", 138)
  .attr("font-family", serif).attr("font-weight", "bold").attr("font-size", 44)
  .attr("fill", "#000").attr("textLength", 186).attr("lengthAdjust", "spacingAndGlyphs")
  .text("5 Gyr Z");
svg.append("text").attr("x", 451).attr("y", 151).attr("text-anchor", "middle")
  .attr("font-family", "'DejaVu Sans', sans-serif").attr("font-weight", "bold").attr("font-size", 27)
  .attr("fill", "#000").text("⊙");

// legend
const legendWidths = [543, 363];
const legendBaselines = [45, 90];
seriesNames.forEach((name, i) => {
  svg.append("text").attr("x", 627).attr("y", legendBaselines[i])
    .attr("font-family", serif).attr("font-weight", i === 0 ? "bold" : "normal")
    .attr("font-size", i === 0 ? 40 : 42).attr("fill", seriesColors[i])
    .attr("textLength", legendWidths[i]).attr("lengthAdjust", "spacingAndGlyphs")
    .text(name);
});
</script>
</body>
</html>
